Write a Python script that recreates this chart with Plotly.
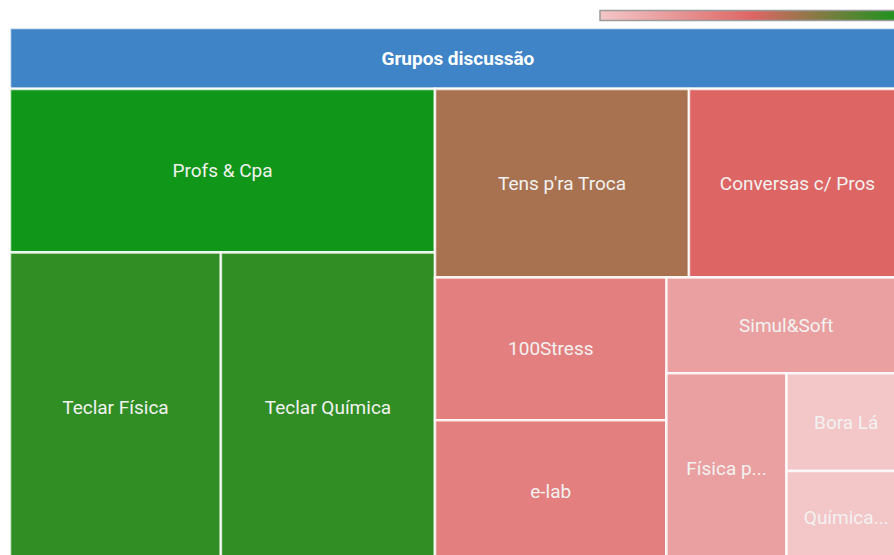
import plotly.graph_objects as go
from plotly.colors import sample_colorscale

# ---- data ----
root_label = "Grupos discussão"
groups = ["Profs & Cpa", "Teclar Física", "Teclar Química", "Tens p'ra Troca",
          "Conversas c/ Pros", "100Stress", "e-lab", "Simul&Soft",
          "Física p...", "Bora Lá", "Química..."]
sizes = [69, 65, 66, 47.5, 40.6, 32.8, 32.8, 22.8, 22.6, 11.6, 10.9]
color_values = [1.0, 0.92, 0.92, 0.63, 0.5, 0.37, 0.37, 0.2, 0.2, 0.0, 0.0]

# ---- style ----
scale = [[0.0, "#f3c6c8"], [0.5, "#dd6664"], [1.0, "#109618"]]
root_color = "#3e84c6"
leaf_colors = sample_colorscale(scale, color_values)
border = dict(color="rgba(255,255,255,0.8)", width=2.5)

W, H = 910, 570
ML, MR, MT, MB = 10, 4, 28, 7
plot_h = H - MT - MB
header_frac = 61 / plot_h


# ---- hierarchy in the order the items are given: each group is split in two
# at the largest leading run whose total does not pass half of the group ----
ids, labels, parents, values, colors = [], [], [], [], []


def build(idx, node_id, parent_id):
    if len(idx) == 1:
        i = idx[0]
        ids.append(node_id); labels.append(groups[i]); parents.append(parent_id)
        values.append(sizes[i]); colors.append(leaf_colors[i])
        return
    ids.append(node_id); labels.append(""); parents.append(parent_id)
    values.append(0); colors.append("#ffffff")
    half = sum(sizes[i] for i in idx) / 2
    acc, k = 0, 0
    for i in idx[:-1]:
        if acc + sizes[i] <= half:
            acc += sizes[i]
            k += 1
        else:
            break
    k = max(k, 1)
    build(idx[:k], node_id + "a", node_id)
    build(idx[k:], node_id + "b", node_id)


build(list(range(len(groups))), "n", "")

fig = go.Figure()
# header (root of the tree)
fig.add_trace(go.Treemap(
    labels=[root_label], parents=[""], values=[sum(sizes)],
    marker=dict(colors=[root_color], line=border),
    textposition="middle center",
    textfont=dict(family="Roboto", size=19, color="white", weight="bold"),
    pathbar=dict(visible=False), hoverinfo="label+value",
    domain=dict(x=[0, 1], y=[1 - header_frac, 1]),
))
# groups
fig.add_trace(go.Treemap(
    ids=ids, labels=labels, parents=parents, values=values,
    branchvalues="remainder", sort=False,
    marker=dict(colors=colors, line=border, pad=dict(t=0, l=0, r=0, b=0)),
    textposition="middle center",
    textfont=dict(family="Roboto", size=19, color="#f2f2f2"),
    pathbar=dict(visible=False), hoverinfo="label+value",
    tiling=dict(packing="binary", pad=0),
    domain=dict(x=[0, 1], y=[0, 1 - header_frac]),
))
# colour scale bar
fig.add_trace(go.Scatter(
    x=[None], y=[None], mode="markers", showlegend=False, hoverinfo="skip",
    marker=dict(colorscale=scale, cmin=0, cmax=1, color=[0], showscale=True,
                colorbar=dict(orientation="h", x=(600 - ML) / (W - ML - MR),
                              xanchor="left", len=(W - MR - 600) / (W - ML - MR),
                              lenmode="fraction", y=(H - MB - 22) / plot_h,
                              yanchor="bottom", thickness=10, xpad=0, ypad=0,
                              outlinecolor="#9a9a9a", outlinewidth=1.5,
                              showticklabels=False, ticks="")),
))
fig.update_layout(
    width=W, height=H,
    margin=dict(l=ML, r=MR, t=MT, b=MB),
    paper_bgcolor="white", plot_bgcolor="white",
    xaxis=dict(visible=False), yaxis=dict(visible=False),
    font=dict(family="Roboto"),
)
fig.write_html("out.html", config={"displayModeBar": False},
               post_script="document.body.style.margin='0';document.body.style.overflow='hidden';")
